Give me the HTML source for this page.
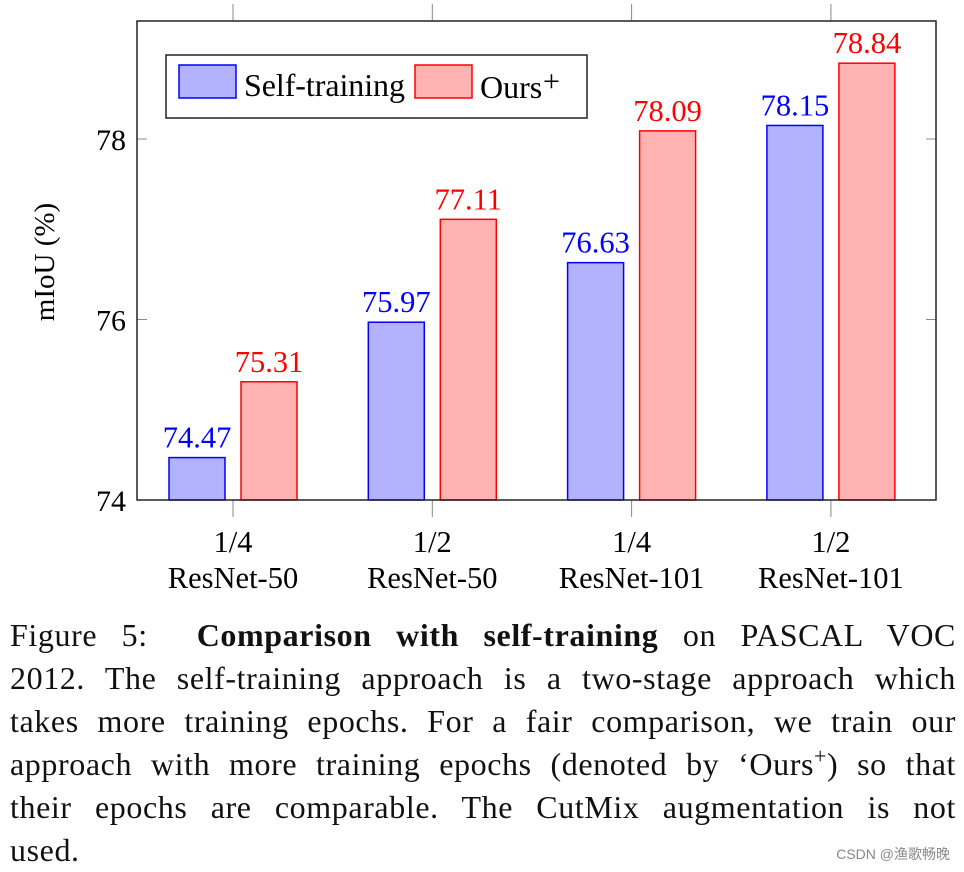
<!DOCTYPE html>
<html><head><meta charset="utf-8"><style>
body{margin:0;background:#fff;width:964px;height:870px;overflow:hidden;position:relative;font-family:"Liberation Serif",serif}
.cap{position:absolute;left:10px;width:946px;font-size:32px;letter-spacing:0.6px;line-height:43px;color:#111;top:614px}
.ln{text-align:justify;text-align-last:justify;white-space:nowrap;height:43px}
.ln.last{text-align-last:left}
.wm{position:absolute;right:14px;bottom:6px;font:14px "Liberation Sans","Noto Sans CJK SC",sans-serif;color:#888}
</style></head><body>
<svg id="chart" width="964" height="610" style="position:absolute;left:0;top:0" font-family="Liberation Serif, serif"></svg>
<div class="cap">
<div class="ln">Figure 5: &nbsp;<b>Comparison with self-training</b> on PASCAL VOC</div>
<div class="ln">2012. The self-training approach is a two-stage approach which</div>
<div class="ln">takes more training epochs. For a fair comparison, we train our</div>
<div class="ln">approach with more training epochs (denoted by ‘Ours<sup style="font-size:22px;line-height:0">+</sup>) so that</div>
<div class="ln">their epochs are comparable. The CutMix augmentation is not</div>
<div class="ln last">used.</div>
</div>
<div class="wm">CSDN @渔歌畅晚</div>
<script>
const categories=["1/4|ResNet-50","1/2|ResNet-50","1/4|ResNet-101","1/2|ResNet-101"];
const selfTraining=[74.47,75.97,76.63,78.15];
const oursPlus=[75.31,77.11,78.09,78.84];
const yTicks=[74,76,78];
const svg=document.getElementById('chart');const NS="http://www.w3.org/2000/svg";
const L=137,R=936,T=21,B=500,y0=74,y1=78;
const y=v=>B-(v-y0)*(B-139)/(y1-y0);
const cx=i=>233+i*199.3;
function el(t,a,txt){const e=document.createElementNS(NS,t);for(const k in a)e.setAttribute(k,a[k]);if(txt!=null)e.textContent=txt;svg.appendChild(e);return e;}
let e;
yTicks.forEach(v=>{
e=el('line',{x1:L,x2:L+10,y1:y(v),y2:y(v),stroke:'#888'});

e=el('line',{x1:R-10,x2:R,y1:y(v),y2:y(v),stroke:'#888'});

e=el('text',{x:126,y:y(v)+11,'text-anchor':'end','font-size':30},v);

});
categories.forEach((c,i)=>{
const x=cx(i);
e=el('line',{x1:x,x2:x,y1:4,y2:T,stroke:'#888'});

e=el('line',{x1:x,x2:x,y1:B,y2:517,stroke:'#888'});

const p=c.split('|');
e=el('text',{x:x,y:552,'text-anchor':'middle','font-size':30.5},p[0]);

e=el('text',{x:x,y:588,'text-anchor':'middle','font-size':30.5},p[1]);

[[selfTraining[i],-64,'#b2b2ff','#0000ff','bar-self-training'],[oursPlus[i],8,'#ffb2b2','#ff0000','bar-ours-plus']].forEach(s=>{
e=el('rect',{x:x+s[1],y:y(s[0]),width:56,height:B-y(s[0]),fill:s[2],stroke:s[3],'stroke-width':1.5});

e=el('text',{x:x+s[1]+28,y:y(s[0])-10,'text-anchor':'middle','font-size':30.5,fill:s[3]},s[0].toFixed(2));

});
});
e=el('rect',{x:L,y:T,width:R-L,height:B-T,fill:'none',stroke:'#222','stroke-width':1.5});

e=el('text',{transform:'translate(54,262) rotate(-90)','text-anchor':'middle','font-size':29},'mIoU (%)');

e=el('rect',{x:166,y:55,width:421,height:63,fill:'#fff',stroke:'#222','stroke-width':1.5});

e=el('rect',{x:179,y:65,width:57,height:33,fill:'#b2b2ff',stroke:'#0000ff','stroke-width':1.5});

e=el('text',{x:244,y:96,'font-size':32,textLength:161},'Self-training');

e=el('rect',{x:415,y:65,width:57,height:33,fill:'#ffb2b2',stroke:'#ff0000','stroke-width':1.5});

e=el('text',{x:480,y:98,'font-size':32},'Ours');

e=el('text',{x:543,y:91,'font-size':30},'+');

</script>
</body></html>
